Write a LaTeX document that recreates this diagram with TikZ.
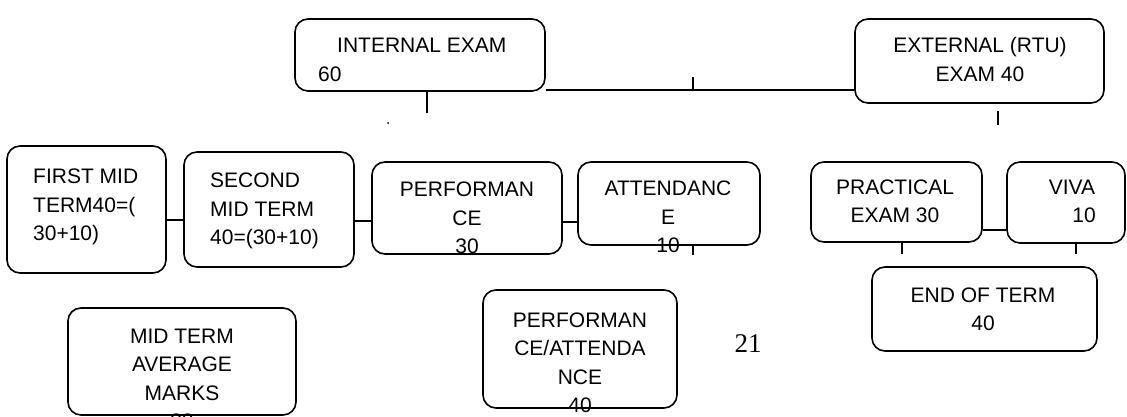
\documentclass[tikz,border=0pt]{standalone}
\usepackage{fontspec}
\setmainfont{Liberation Sans}
\newfontfamily\pagefont{Liberation Serif}
\begin{document}
\begin{tikzpicture}[x=1pt,y=-1pt,
  box/.style={draw, line width=1.6pt, rounded corners=13pt, inner sep=0pt},
  txt/.style={font=\fontsize{21}{28.5}\selectfont, inner sep=0pt, anchor=base},
  link/.style={line width=1.6pt}]
\useasboundingbox (0,0) rectangle (1127,417);
% boxes
\node[box, minimum width=250pt, minimum height=72pt] (int) at (420,55) {};
\node[box, minimum width=249pt, minimum height=84pt] (ext) at (979.5,61) {};
\node[box, minimum width=159pt, minimum height=127pt] (first) at (86.5,209.5) {};
\node[box, minimum width=170pt, minimum height=115pt] (second) at (269,209.5) {};
\node[box, minimum width=190pt, minimum height=92pt] (perf) at (467,208) {};
\node[box, minimum width=182pt, minimum height=83pt] (att) at (669,203.5) {};
\node[box, minimum width=171pt, minimum height=80pt] (pract) at (896.5,202) {};
\node[box, minimum width=118pt, minimum height=81pt] (viva) at (1066,202.5) {};
\node[box, minimum width=225pt, minimum height=84pt] (endterm) at (984.5,309) {};
\node[box, minimum width=228pt, minimum height=107pt] (avg) at (182,361.5) {};
\node[box, minimum width=194pt, minimum height=118pt] (perfatt) at (580,349) {};
% texts (base = last line)
\node[txt, anchor=base west, align=left] (int-t) at (318,81.5) {\hspace*{19pt}INTERNAL EXAM\\60};
\node[txt, align=center] (ext-t) at (980,81.5) {EXTERNAL (RTU)\\EXAM 40};
\node[txt, anchor=base west, align=left] (first-t) at (33,240.5) {FIRST MID\\TERM40=(\\30+10)};
\node[txt, anchor=base west, align=left] (second-t) at (210,244.5) {SECOND\\MID TERM\\40=(30+10)};
\node[txt, align=center] (perf-t) at (467,253.5) {PERFORMAN\\CE\\30};
\node[txt, align=center] (att-t) at (668,252.5) {ATTENDANC\\E\\10};
\node[txt, align=center] (pract-t) at (895,222.5) {PRACTICAL\\EXAM 30};
\node[txt, align=center] (viva-t) at (1072,222.5) {VIVA\\\hspace*{24pt}10};
\node[txt, align=center] (endterm-t) at (983,330.5) {END OF TERM\\40};
\node[txt, align=center] (avg-t) at (182,428.5) {MID TERM\\AVERAGE\\MARKS\\30};
\node[txt, align=center] (perfatt-t) at (580,412.5) {PERFORMAN\\CE/ATTENDA\\NCE\\40};
\node[font=\pagefont\fontsize{27}{30}\selectfont, inner sep=0pt, anchor=base] (page) at (748,352) {21};
% connectors
\draw[link] ([yshift=2pt]int.south east) coordinate (top) -- (top -| ext.west);
\coordinate (topmid) at (693,89);
\draw[link] (topmid) -- ++(0,-12);
\draw[link] ([xshift=7pt]int.south) -- ++(0,21);
\fill (388,123) circle (1);
\draw[link] ([xshift=18.5pt,yshift=-7pt]ext.south) -- ++(0,14);
\draw[link] ([yshift=-10.5pt]first.east) -- ([yshift=-10.5pt]second.west);
\draw[link] ([yshift=-11.5pt]second.east) coordinate (s) -- (s -| perf.west);
\draw[link] ([yshift=-14pt]perf.east) coordinate (p) -- (p -| att.west);
\draw[link] ([xshift=24pt]att.south) -- ++(0,9);
\draw[link] ([yshift=-28pt]pract.east) coordinate (q) -- (q -| viva.west);
\draw[link] ([xshift=5.5pt]pract.south) -- ++(0,11);
\draw[link] ([xshift=10pt]viva.south) -- ++(0,10);
\end{tikzpicture}
\end{document}
